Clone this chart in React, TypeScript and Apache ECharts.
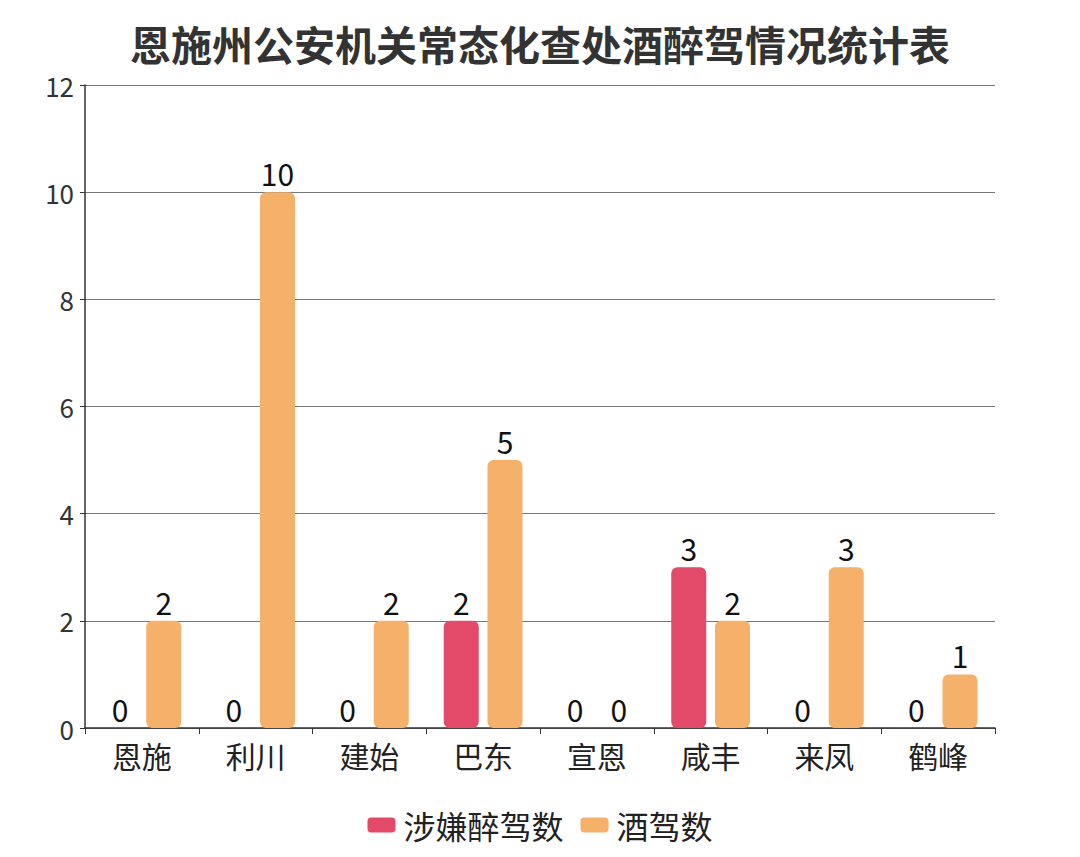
import React, { useEffect, useRef } from "react";
import * as echarts from "echarts";

const titleText = "恩施州公安机关常态化查处酒醉驾情况统计表";
const categories = ["恩施", "利川", "建始", "巴东", "宣恩", "咸丰", "来凤", "鹤峰"];
const seriesNames = ["涉嫌醉驾数", "酒驾数"];
const drunkDriving = [0, 0, 0, 2, 0, 3, 0, 0];
const drinkDriving = [2, 10, 2, 5, 0, 2, 3, 1];
const colors = ["#e34a6a", "#f5b06a"];

const FONT = "'Noto Sans CJK SC', 'Noto Sans', sans-serif";

export default function App() {
  const ref = useRef<HTMLDivElement>(null);
  useEffect(() => {
    if (!ref.current) return;
    const chart = echarts.init(ref.current, undefined, { renderer: "svg" });
    const label = {
      show: true,
      position: "top" as const,
      distance: 4,
      fontSize: 30,
      color: "#111",
      fontFamily: FONT,
    };
    chart.setOption({
      animation: false,
      backgroundColor: "#fff",
      textStyle: { fontFamily: FONT },
      title: {
        text: titleText,
        left: "center",
        top: 17,
        textStyle: { fontSize: 41, fontWeight: "bold", color: "#333", fontFamily: FONT },
      },
      legend: {
        bottom: 11,
        left: "center",
        itemWidth: 28,
        itemHeight: 15,
        itemGap: 17,
        icon: "roundRect",
        textStyle: { fontSize: 32, color: "#222", fontFamily: FONT, padding: [0, 0, 0, 3] },
        data: seriesNames,
      },
      grid: { left: 85, right: 85, top: 85, bottom: 129, containLabel: false },
      xAxis: {
        type: "category",
        data: categories,
        axisLine: { lineStyle: { color: "#333", width: 1.5 } },
        axisTick: { show: true, length: 6, lineStyle: { color: "#333" } },
        axisLabel: { fontSize: 30, color: "#222", margin: 12, fontFamily: FONT },
      },
      yAxis: {
        type: "value",
        min: 0,
        max: 12,
        interval: 2,
        axisLine: { show: true, lineStyle: { color: "#333", width: 1.5 } },
        axisTick: { show: true, length: 5, lineStyle: { color: "#333" } },
        axisLabel: { fontSize: 26, color: "#333", margin: 11, fontFamily: FONT },
        splitLine: { lineStyle: { color: "#777", width: 1 } },
      },
      series: [
        {
          name: seriesNames[0],
          type: "bar",
          data: drunkDriving,
          barWidth: 35,
          barGap: "25%",
          itemStyle: { color: colors[0], borderRadius: 6 },
          label,
        },
        {
          name: seriesNames[1],
          type: "bar",
          data: drinkDriving,
          barWidth: 35,
          barGap: "25%",
          itemStyle: { color: colors[1], borderRadius: 6 },
          label,
        },
      ],
    });
    return () => chart.dispose();
  }, []);
  return (
    <div
      ref={ref}
      style={{ position: "fixed", left: 0, top: 0, width: 1080, height: 857 }}
    />
  );
}
